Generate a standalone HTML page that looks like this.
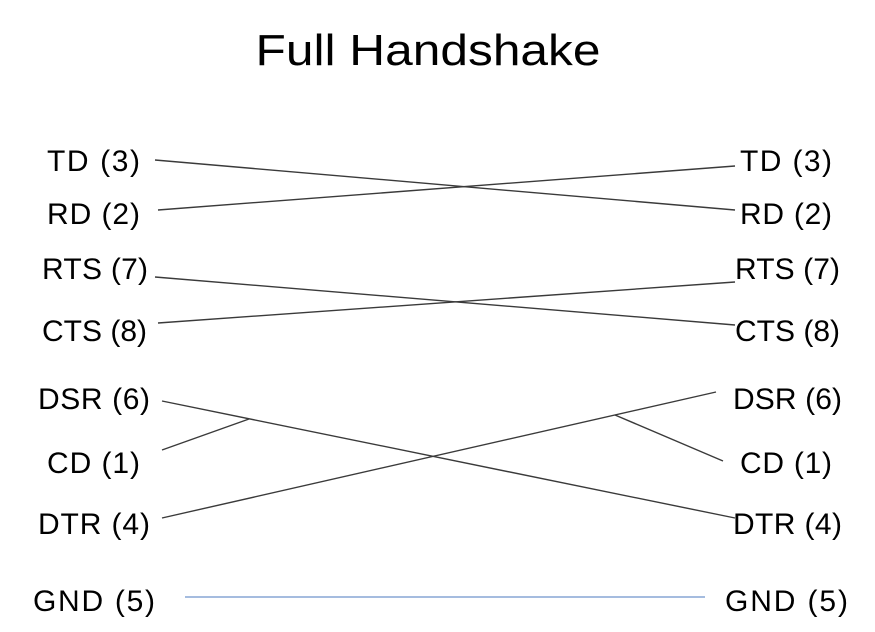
<!DOCTYPE html>
<html><head><meta charset="utf-8"><style>
html,body{margin:0;padding:0;background:#fff;}
svg{display:block;}
text{font-family:"Liberation Sans",sans-serif;fill:#000;}
</style></head><body>
<svg width="875" height="632" viewBox="0 0 875 632" xmlns="http://www.w3.org/2000/svg">
<text x="428" y="65" font-size="44" text-anchor="middle" textLength="345" lengthAdjust="spacingAndGlyphs">Full Handshake</text>
<g font-size="30" lengthAdjust="spacingAndGlyphs">
<text x="47" y="171" textLength="93">TD (3)</text>
<text x="47" y="224" textLength="93">RD (2)</text>
<text x="42" y="279" textLength="106">RTS (7)</text>
<text x="42" y="341" textLength="105">CTS (8)</text>
<text x="38" y="409" textLength="112">DSR (6)</text>
<text x="47" y="473" textLength="93">CD (1)</text>
<text x="38" y="534" textLength="112">DTR (4)</text>
<text x="33" y="611" textLength="122">GND (5)</text>
<text x="740" y="171" textLength="92">TD (3)</text>
<text x="740" y="224" textLength="92">RD (2)</text>
<text x="735" y="279" textLength="105">RTS (7)</text>
<text x="735" y="341" textLength="105">CTS (8)</text>
<text x="733" y="409" textLength="109">DSR (6)</text>
<text x="740" y="473" textLength="92">CD (1)</text>
<text x="733" y="534" textLength="109">DTR (4)</text>
<text x="725" y="611" textLength="123">GND (5)</text>
</g>
<g stroke="#3a3a3a" stroke-width="1.4" fill="none">
<line x1="155" y1="160" x2="735" y2="210"/>
<line x1="158" y1="210" x2="735" y2="166"/>
<line x1="155" y1="277" x2="735" y2="325"/>
<line x1="158" y1="323" x2="735" y2="282"/>
<line x1="162" y1="401" x2="735" y2="518"/>
<line x1="162" y1="450" x2="249" y2="419"/>
<line x1="162" y1="518" x2="716" y2="392"/>
<line x1="723" y1="461" x2="615" y2="415"/>
</g>
<line x1="185" y1="597" x2="705" y2="597" stroke="#6f95cc" stroke-width="1.2"/>
</svg>
</body></html>
